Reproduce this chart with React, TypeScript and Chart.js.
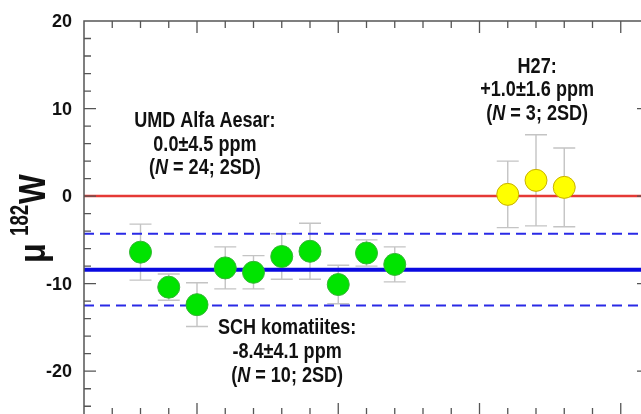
import React, { useEffect, useRef } from "react";
import { Chart, registerables } from "chart.js";

Chart.register(...registerables);

// ---- data ----
const schX = [3, 4, 5, 6, 7, 8, 9, 10, 11, 12];
const schY = [-6.4, -10.4, -12.4, -8.2, -8.7, -6.9, -6.3, -10.1, -6.5, -7.8];
const schErr = [3.2, 1.5, 2.5, 2.4, 1.9, 2.6, 3.2, 2.2, 1.5, 2.0];

const h27X = [16, 17, 18];
const h27Y = [0.2, 1.8, 1.0];
const h27Err = [3.8, 5.2, 4.5];

const umdMean = 0.0;
const schMean = -8.4;
const schSD = 4.1;

const yTickLabels = [-20, -10, 0, 10, 20];

const umdText = ["UMD Alfa Aesar:", "0.0\u00b14.5 ppm", "(|N| = 24; 2SD)"];
const h27Text = ["H27:", "+1.0\u00b11.6 ppm", "(|N| = 3; 2SD)"];
const schText = ["SCH komatiites:", "-8.4\u00b14.1 ppm", "(|N| = 10; 2SD)"];

const X_MIN = 1;
const X_MAX = 21;
const Y_MIN = -25;
const Y_MAX = 20;

const FONT = '"Liberation Sans", Arial, sans-serif';
const NARROW = 0.82;

function fontStr(size: number, italic = false) {
  return `${italic ? "italic " : ""}bold ${size}px ${FONT}`;
}

// line with |...| marking italic runs
function drawRichLine(ctx: CanvasRenderingContext2D, text: string, cx: number, baseline: number, size: number) {
  const parts = text.split("|").map((t, i) => ({ t, italic: i % 2 === 1 }));
  ctx.save();
  ctx.translate(cx, baseline);
  ctx.scale(NARROW, 1);
  let total = 0;
  const widths = parts.map((p) => {
    ctx.font = fontStr(size, p.italic);
    const w = ctx.measureText(p.t).width;
    total += w;
    return w;
  });
  let x = -total / 2;
  ctx.textAlign = "left";
  ctx.textBaseline = "alphabetic";
  ctx.fillStyle = "#111";
  parts.forEach((p, i) => {
    ctx.font = fontStr(size, p.italic);
    ctx.fillText(p.t, x, 0);
    x += widths[i];
  });
  ctx.restore();
}

const annotations = [
  { lines: umdText, x: 5.28, y: 7.9 },
  { lines: h27Text, x: 17.04, y: 14.1 },
  { lines: schText, x: 8.19, y: -15.8 },
];

const errorBarPlugin = {
  id: "errorBars",
  beforeDatasetsDraw(chart: any) {
    const { ctx, scales } = chart;
    const xs = scales.x;
    const ys = scales.y;
    ctx.save();
    ctx.strokeStyle = "#c4c4c4";
    ctx.lineWidth = 1.4;
    const groups = [
      [schX, schY, schErr],
      [h27X, h27Y, h27Err],
    ];
    groups.forEach(([gx, gy, ge]) => {
      gx.forEach((xv: number, i: number) => {
        const px = xs.getPixelForValue(xv);
        const top = ys.getPixelForValue(gy[i] + ge[i]);
        const bot = ys.getPixelForValue(gy[i] - ge[i]);
        ctx.beginPath();
        ctx.moveTo(px, top);
        ctx.lineTo(px, bot);
        ctx.moveTo(px - 11, top);
        ctx.lineTo(px + 11, top);
        ctx.moveTo(px - 11, bot);
        ctx.lineTo(px + 11, bot);
        ctx.stroke();
      });
    });
    ctx.restore();
  },
};

const framePlugin = {
  id: "frame",
  afterDraw(chart: any) {
    const { ctx, chartArea, scales } = chart;
    const xs = scales.x;
    const ys = scales.y;
    const { left, right, top, bottom } = chartArea;
    ctx.save();
    ctx.strokeStyle = "#555";
    ctx.lineWidth = 1.5;
    ctx.beginPath();
    ctx.rect(left, top, right - left, bottom - top);
    ctx.stroke();
    ctx.lineWidth = 1.3;
    ctx.beginPath();
    for (let v = -24; v <= 18; v += 2) {
      const py = ys.getPixelForValue(v);
      const len = v % 10 === 0 ? 12 : 7;
      ctx.moveTo(left, py);
      ctx.lineTo(left + len, py);
      ctx.moveTo(right, py);
      ctx.lineTo(right - len, py);
    }
    for (let v = X_MIN + 1; v < X_MAX; v += 1) {
      const px = xs.getPixelForValue(v);
      const len = v % 5 === 0 ? 12 : 7;
      ctx.moveTo(px, top);
      ctx.lineTo(px, top + len);
      ctx.moveTo(px, bottom);
      ctx.lineTo(px, bottom - len);
    }
    ctx.stroke();
    ctx.restore();

    // y tick labels
    ctx.save();
    ctx.fillStyle = "#111";
    ctx.font = fontStr(18);
    ctx.textAlign = "right";
    ctx.textBaseline = "middle";
    yTickLabels.forEach((v) => {
      ctx.fillText(String(v), left - 12, ys.getPixelForValue(v) + 1);
    });
    ctx.restore();

    // annotations
    annotations.forEach((a) => {
      const cx = xs.getPixelForValue(a.x);
      const by = ys.getPixelForValue(a.y);
      a.lines.forEach((ln, i) => drawRichLine(ctx, ln, cx, by + i * 23.7, 22));
    });

    // axis title mu 182 W
    ctx.save();
    ctx.translate(45, 263);
    ctx.rotate(-Math.PI / 2);
    ctx.fillStyle = "#111";
    ctx.textAlign = "left";
    ctx.textBaseline = "alphabetic";
    ctx.save();
    ctx.scale(0.9, 1);
    ctx.font = fontStr(36);
    ctx.fillText("\u03bc", 0, 0);
    ctx.restore();
    ctx.save();
    ctx.translate(27, -17);
    ctx.scale(0.72, 1);
    ctx.font = fontStr(26);
    ctx.fillText("182", 0, 0);
    ctx.restore();
    ctx.save();
    ctx.translate(59, 0);
    ctx.scale(0.85, 1);
    ctx.font = fontStr(37);
    ctx.fillText("W", 0, 0);
    ctx.restore();
    ctx.restore();
  },
};

export default function App() {
  const ref = useRef<HTMLCanvasElement>(null);
  useEffect(() => {
    if (!ref.current) return;
    const hLine = (yv: number) => [
      { x: X_MIN, y: yv },
      { x: X_MAX, y: yv },
    ];
    const chart = new Chart(ref.current, {
      type: "scatter",
      data: {
        datasets: [
          {
            type: "scatter",
            data: schX.map((x, i) => ({ x, y: schY[i] })),
            backgroundColor: "#00e400",
            borderColor: "#35b535",
            borderWidth: 1,
            pointRadius: 11,
            order: 0,
          },
          {
            type: "scatter",
            data: h27X.map((x, i) => ({ x, y: h27Y[i] })),
            backgroundColor: "#ffff00",
            borderColor: "#c8b000",
            borderWidth: 1,
            pointRadius: 11,
            order: 0,
          },
          {
            type: "line",
            data: hLine(umdMean),
            borderColor: "#e53935",
            borderWidth: 2.5,
            pointRadius: 0,
            order: 1,
          },
          {
            type: "line",
            data: hLine(schMean),
            borderColor: "#0a0ae0",
            borderWidth: 4,
            pointRadius: 0,
            order: 1,
          },
          {
            type: "line",
            data: hLine(schMean + schSD),
            borderColor: "#2a2ae6",
            borderWidth: 2,
            borderDash: [10, 6],
            pointRadius: 0,
            order: 1,
          },
          {
            type: "line",
            data: hLine(schMean - schSD),
            borderColor: "#2a2ae6",
            borderWidth: 2,
            borderDash: [10, 6],
            pointRadius: 0,
            order: 1,
          },
        ] as any,
      },
      options: {
        animation: false,
        responsive: false,
        maintainAspectRatio: false,
        devicePixelRatio: 1,
        layout: { autoPadding: false, padding: { top: 21, right: 11, bottom: 5, left: 0 } },
        plugins: { legend: { display: false }, tooltip: { enabled: false } },
        scales: {
          x: { type: "linear", min: X_MIN, max: X_MAX, display: false },
          y: {
            type: "linear",
            min: Y_MIN,
            max: Y_MAX,
            grid: { display: false },
            border: { display: false },
            afterFit: (s: any) => {
              s.width = 84;
            },
            ticks: { display: false, stepSize: 10 },
          },
        },
      },
      plugins: [errorBarPlugin, framePlugin],
    } as any);
    return () => chart.destroy();
  }, []);
  return (
    <div style={{ position: "fixed", left: 0, top: 0, width: 641, height: 414, overflow: "hidden", background: "#fff" }}>
      <canvas ref={ref} width={660} height={420} style={{ width: 660, height: 420, display: "block" }} />
    </div>
  );
}
